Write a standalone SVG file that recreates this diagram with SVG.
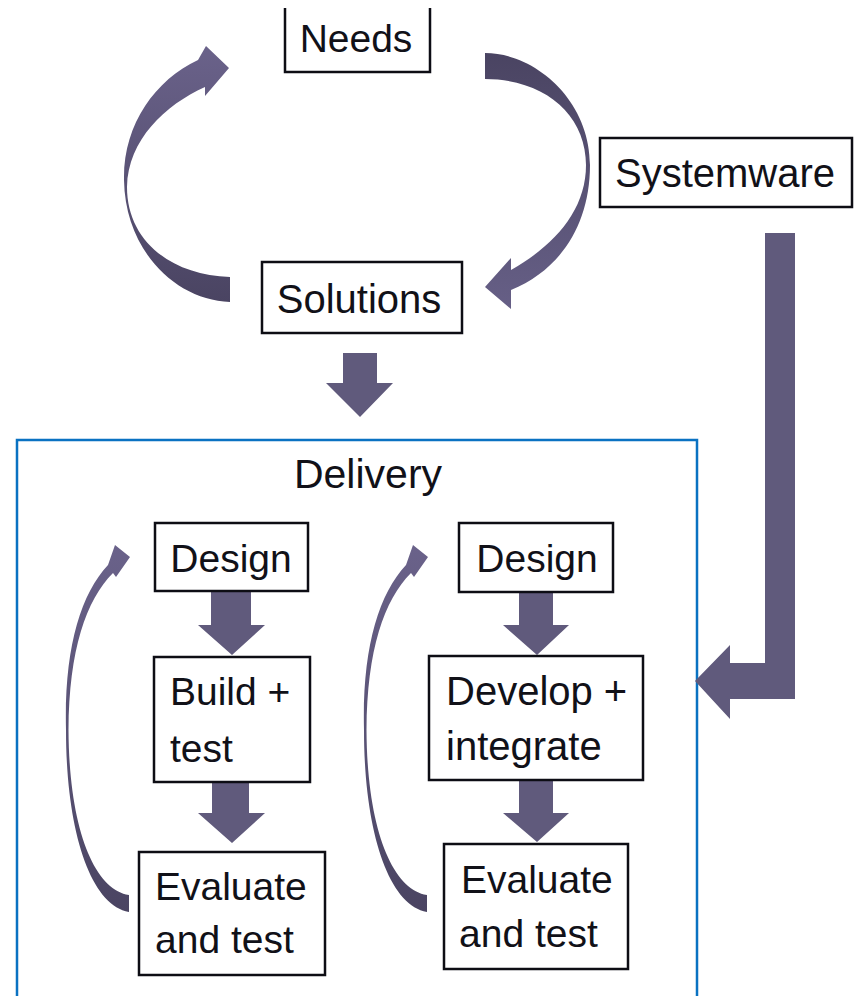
<svg xmlns="http://www.w3.org/2000/svg" width="855" height="996" viewBox="0 0 855 996">
<style>
  .box { fill: #ffffff; stroke: #0d0d14; stroke-width: 2.5; }
  .t { font-family: "Liberation Sans", Arial, sans-serif; font-size: 39px; fill: #111118; }
  .m { text-anchor: middle; }
  .arrow { fill: #605a7c; }
  .frame { fill: none; stroke: #0a72c2; stroke-width: 2.5; }
</style>
<defs>
  <linearGradient id="gUp" x1="0" y1="0" x2="0" y2="1">
    <stop offset="0" stop-color="#6a628a"/>
    <stop offset="1" stop-color="#4a4462"/>
  </linearGradient>
  <linearGradient id="gDown" x1="0" y1="0" x2="0" y2="1">
    <stop offset="0" stop-color="#4a4462"/>
    <stop offset="1" stop-color="#665f86"/>
  </linearGradient>
</defs>

<g id="delivery">
  <rect class="frame" x="17" y="440" width="680" height="580"/>
  <text class="t m" x="368" y="488" style="font-size:41px">Delivery</text>
</g>

<g id="connectors">
  <!-- Solutions -> Needs (left loop) -->
  <path fill="url(#gUp)" d="M230,302 C175,300 125,250 124,180 C123,125 155,80 198,60 L206,46 L229,68 L205,96 L205,87 C165,105 128,140 127,187 C127,240 170,275 230,277 Z"/>
  <!-- Needs -> Solutions (right loop) -->
  <path fill="url(#gDown)" d="M485,53 C535,53 590,100 590,165 C590,225 560,270 511,290 L511,309 L485,287 L511,258 L511,270 C555,245 586,210 586,165 C586,115 545,79 485,79 Z"/>
  <!-- Solutions -> Delivery -->
  <path class="arrow" d="M343,353 H377 V383 H393 L360,417 L326,383 H343 Z"/>
  <!-- Systemware -> Delivery -->
  <path class="arrow" d="M765,233 H795 V699 H730 V719 L695,681 L730,645 V663 H765 Z"/>
  <!-- left column -->
  <path class="arrow" d="M211,591 H251 V625 H265 L232,655 L198,625 H211 Z"/>
  <path class="arrow" d="M212,782 H249 V813 H265 L232,843 L198,813 H212 Z"/>
  <path fill="url(#gUp)" d="M129,912 C90,905 66,830 66,730 C64,650 80,595 108,565 L115,545 L130,557 L116,577 L113,573 C86,600 69,650 68.5,730 C69,830 95,890 129,895 Z"/>
  <!-- right column -->
  <path class="arrow" d="M519,592 H553 V625 H569 L537,655 L503,625 H519 Z"/>
  <path class="arrow" d="M519,780 H553 V813 H569 L537,842 L503,813 H519 Z"/>
  <path fill="url(#gUp)" transform="translate(298,0)" d="M129,912 C90,905 66,830 66,730 C64,650 80,595 108,565 L115,545 L130,557 L116,577 L113,573 C86,600 69,650 68.5,730 C69,830 95,890 129,895 Z"/>
</g>

<g id="needs">
  <path class="box" d="M285,8 V72 H430 V8"/>
  <text class="t m" x="356" y="52">Needs</text>
</g>
<g id="solutions">
  <rect class="box" x="262" y="262" width="200" height="71"/>
  <text class="t m" x="359" y="313" style="font-size:40px">Solutions</text>
</g>
<g id="systemware">
  <rect class="box" x="600" y="138" width="252" height="69"/>
  <text class="t m" x="725" y="187" style="font-size:40px">Systemware</text>
</g>

<g id="design-left">
  <rect class="box" x="155" y="523" width="153" height="68"/>
  <text class="t m" x="231" y="572">Design</text>
</g>
<g id="build-test">
  <rect class="box" x="154" y="657" width="156" height="125"/>
  <text class="t" x="170" y="705">Build +</text>
  <text class="t" x="170" y="762">test</text>
</g>
<g id="evaluate-left">
  <rect class="box" x="139" y="852" width="186" height="123"/>
  <text class="t" x="155" y="900">Evaluate</text>
  <text class="t" x="155" y="953">and test</text>
</g>

<g id="design-right">
  <rect class="box" x="459" y="523" width="154" height="69"/>
  <text class="t m" x="537" y="572">Design</text>
</g>
<g id="develop-integrate">
  <rect class="box" x="429" y="656" width="214" height="124"/>
  <text class="t" x="446" y="705" style="font-size:40px">Develop +</text>
  <text class="t" x="446" y="760" style="font-size:40px">integrate</text>
</g>
<g id="evaluate-right">
  <rect class="box" x="444" y="844" width="184" height="125"/>
  <text class="t" x="461" y="893">Evaluate</text>
  <text class="t" x="459" y="947">and test</text>
</g>
</svg>
